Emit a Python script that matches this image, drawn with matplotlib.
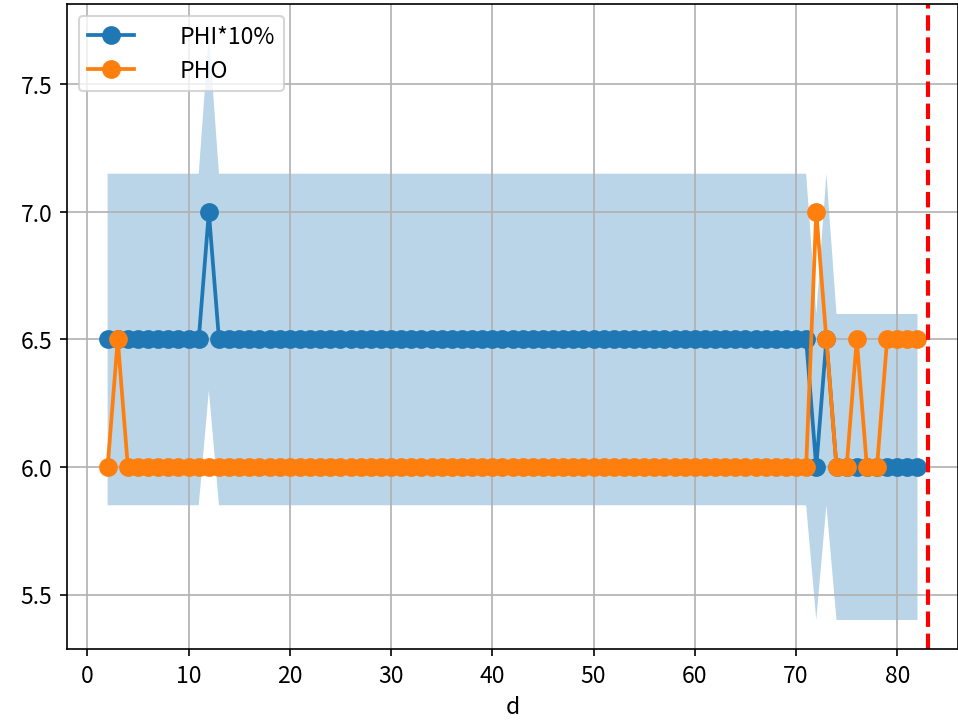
import matplotlib
matplotlib.use('Agg')
import matplotlib.pyplot as plt
import numpy as np

plt.rcParams['font.family'] = ['Noto Sans CJK JP', 'DejaVu Sans']
plt.rcParams['font.size'] = 11
plt.rcParams['axes.unicode_minus'] = False

d = list(range(2, 83))

phi = [6.5, 6.5, 6.5, 6.5, 6.5, 6.5, 6.5, 6.5,
       6.5, 6.5, 7.0, 6.5, 6.5, 6.5, 6.5, 6.5, 6.5, 6.5,
       6.5, 6.5, 6.5, 6.5, 6.5, 6.5, 6.5, 6.5, 6.5, 6.5,
       6.5, 6.5, 6.5, 6.5, 6.5, 6.5, 6.5, 6.5, 6.5, 6.5,
       6.5, 6.5, 6.5, 6.5, 6.5, 6.5, 6.5, 6.5, 6.5, 6.5,
       6.5, 6.5, 6.5, 6.5, 6.5, 6.5, 6.5, 6.5, 6.5, 6.5,
       6.5, 6.5, 6.5, 6.5, 6.5, 6.5, 6.5, 6.5, 6.5, 6.5,
       6.5, 6.5, 6.0, 6.5, 6.0, 6.0, 6.0, 6.0, 6.0, 6.0,
       6.0, 6.0, 6.0]

pho = [6.0, 6.5, 6.0, 6.0, 6.0, 6.0, 6.0, 6.0,
       6.0, 6.0, 6.0, 6.0, 6.0, 6.0, 6.0, 6.0, 6.0, 6.0,
       6.0, 6.0, 6.0, 6.0, 6.0, 6.0, 6.0, 6.0, 6.0, 6.0,
       6.0, 6.0, 6.0, 6.0, 6.0, 6.0, 6.0, 6.0, 6.0, 6.0,
       6.0, 6.0, 6.0, 6.0, 6.0, 6.0, 6.0, 6.0, 6.0, 6.0,
       6.0, 6.0, 6.0, 6.0, 6.0, 6.0, 6.0, 6.0, 6.0, 6.0,
       6.0, 6.0, 6.0, 6.0, 6.0, 6.0, 6.0, 6.0, 6.0, 6.0,
       6.0, 6.0, 7.0, 6.5, 6.0, 6.0, 6.5, 6.0, 6.0, 6.5,
       6.5, 6.5, 6.5]

today = 83

phi_a = np.array(phi)

fig = plt.figure(figsize=(6.393, 4.833), dpi=150)
ax = fig.add_axes([0.07, 0.103, 0.929, 0.89])

ax.plot(d, phi, marker='o', markersize=8, linewidth=1.8, label='PHI*10%')
ax.fill_between(d, phi_a * 0.9, phi_a * 1.1, alpha=0.3)
ax.plot(d, pho, marker='o', markersize=8, linewidth=1.8, label='PHO')
ax.axvline(today, color='red', linestyle='--', linewidth=2)

ax.set_xlabel('d')
ax.grid(True)
ax.legend(loc='upper left', handletextpad=2.0)

fig.savefig('out.png', dpi=150)
